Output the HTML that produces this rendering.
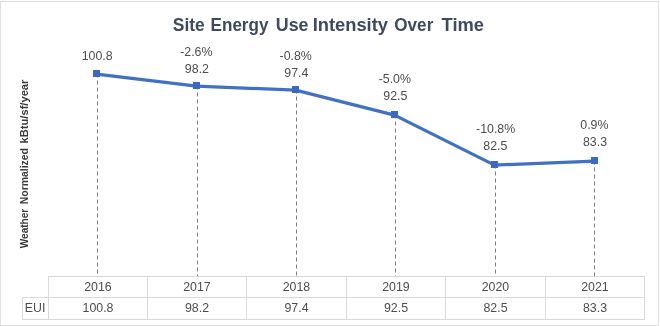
<!DOCTYPE html>
<html><head><meta charset="utf-8"><style>
html,body{margin:0;padding:0;background:#fff;}
svg{display:block;will-change:transform;}
text{font-family:"Liberation Sans",sans-serif;}
</style></head><body>
<svg width="660" height="326" viewBox="0 0 660 326">
<rect x="0" y="0" width="660" height="326" fill="#fff"/>
<rect x="0.5" y="1.5" width="658" height="324" fill="none" stroke="#e0e0e0" stroke-width="1"/>
<text x="172.80" y="31" font-size="18.8" font-weight="bold" fill="#3f4a5e" textLength="32.00" lengthAdjust="spacingAndGlyphs">Site</text>
<text x="210.60" y="31" font-size="18.8" font-weight="bold" fill="#3f4a5e" textLength="57.80" lengthAdjust="spacingAndGlyphs">Energy</text>
<text x="275.80" y="31" font-size="18.8" font-weight="bold" fill="#3f4a5e" textLength="32.70" lengthAdjust="spacingAndGlyphs">Use</text>
<text x="312.70" y="31" font-size="18.8" font-weight="bold" fill="#3f4a5e" textLength="75.30" lengthAdjust="spacingAndGlyphs">Intensity</text>
<text x="394.30" y="31" font-size="18.8" font-weight="bold" fill="#3f4a5e" textLength="39.00" lengthAdjust="spacingAndGlyphs">Over</text>
<text x="441.50" y="31" font-size="18.8" font-weight="bold" fill="#3f4a5e" textLength="42.50" lengthAdjust="spacingAndGlyphs">Time</text>
<text transform="translate(27.7,248.2) rotate(-90)" x="0" y="0" font-size="10.6" font-weight="bold" fill="#3a3a3a" textLength="39.4" lengthAdjust="spacingAndGlyphs">Weather</text>
<text transform="translate(27.7,204.2) rotate(-90)" x="0" y="0" font-size="10.6" font-weight="bold" fill="#3a3a3a" textLength="56.2" lengthAdjust="spacingAndGlyphs">Normalized</text>
<text transform="translate(27.7,143.4) rotate(-90)" x="0" y="0" font-size="10.6" font-weight="bold" fill="#3a3a3a" textLength="63.8" lengthAdjust="spacingAndGlyphs">kBtu/sf/year</text>
<line x1="97.5" y1="73.5" x2="97.5" y2="276" stroke="#7f7f7f" stroke-width="1" stroke-dasharray="4 3"/>
<line x1="197.5" y1="85.5" x2="197.5" y2="276" stroke="#7f7f7f" stroke-width="1" stroke-dasharray="4 3"/>
<line x1="296.5" y1="89.5" x2="296.5" y2="276" stroke="#7f7f7f" stroke-width="1" stroke-dasharray="4 3"/>
<line x1="395.5" y1="114.5" x2="395.5" y2="276" stroke="#7f7f7f" stroke-width="1" stroke-dasharray="4 3"/>
<line x1="495.5" y1="164.5" x2="495.5" y2="276" stroke="#7f7f7f" stroke-width="1" stroke-dasharray="4 3"/>
<line x1="594.5" y1="160.5" x2="594.5" y2="276" stroke="#7f7f7f" stroke-width="1" stroke-dasharray="4 3"/>
<g stroke="#d9d9d9" stroke-width="1"><line x1="48" y1="276.5" x2="644" y2="276.5"/><line x1="22" y1="297.5" x2="644" y2="297.5"/><line x1="22" y1="319.5" x2="644" y2="319.5"/><line x1="48.5" y1="276" x2="48.5" y2="320"/><line x1="147.5" y1="276" x2="147.5" y2="320"/><line x1="246.5" y1="276" x2="246.5" y2="320"/><line x1="346.5" y1="276" x2="346.5" y2="320"/><line x1="445.5" y1="276" x2="445.5" y2="320"/><line x1="545.5" y1="276" x2="545.5" y2="320"/><line x1="644.5" y1="276" x2="644.5" y2="320"/><line x1="22.5" y1="297" x2="22.5" y2="320"/></g>
<path d="M96.5,74.1 L196.5,86.1 L295.5,90.1 L394.5,115.1 L494.5,165.1 L594.5,161.1" fill="none" stroke="#4270c2" stroke-width="3.25" stroke-linejoin="round"/>
<rect x="93.0" y="70.0" width="7" height="7" fill="#3d68bf"/>
<rect x="193.0" y="82.0" width="7" height="7" fill="#3d68bf"/>
<rect x="292.0" y="86.0" width="7" height="7" fill="#3d68bf"/>
<rect x="391.0" y="111.0" width="7" height="7" fill="#3d68bf"/>
<rect x="491.0" y="161.0" width="7" height="7" fill="#3d68bf"/>
<rect x="591.0" y="157.0" width="7" height="7" fill="#3d68bf"/>
<text transform="translate(97.2,59.7) scale(0.96,1)" text-anchor="middle" font-size="12.9" fill="#4d4d4d">100.8</text>
<text transform="translate(196.9,72.8) scale(0.96,1)" text-anchor="middle" font-size="12.9" fill="#4d4d4d">98.2</text>
<text transform="translate(196.3,55.7) scale(0.96,1)" text-anchor="middle" font-size="12.9" fill="#4d4d4d">-2.6%</text>
<text transform="translate(296.3,76.8) scale(0.96,1)" text-anchor="middle" font-size="12.9" fill="#4d4d4d">97.4</text>
<text transform="translate(295.7,59.9) scale(0.96,1)" text-anchor="middle" font-size="12.9" fill="#4d4d4d">-0.8%</text>
<text transform="translate(395.3,99.7) scale(0.96,1)" text-anchor="middle" font-size="12.9" fill="#4d4d4d">92.5</text>
<text transform="translate(394.8,83.1) scale(0.96,1)" text-anchor="middle" font-size="12.9" fill="#4d4d4d">-5.0%</text>
<text transform="translate(495.3,149.8) scale(0.96,1)" text-anchor="middle" font-size="12.9" fill="#4d4d4d">82.5</text>
<text transform="translate(495.6,133.4) scale(0.96,1)" text-anchor="middle" font-size="12.9" fill="#4d4d4d">-10.8%</text>
<text transform="translate(595.0,145.7) scale(0.96,1)" text-anchor="middle" font-size="12.9" fill="#4d4d4d">83.3</text>
<text transform="translate(594.4,128.9) scale(0.96,1)" text-anchor="middle" font-size="12.9" fill="#4d4d4d">0.9%</text>
<text transform="translate(98.0,291) scale(0.96,1)" text-anchor="middle" font-size="12.9" fill="#4d4d4d">2016</text>
<text transform="translate(98.0,312) scale(0.96,1)" text-anchor="middle" font-size="12.9" fill="#4d4d4d">100.8</text>
<text transform="translate(197.0,291) scale(0.96,1)" text-anchor="middle" font-size="12.9" fill="#4d4d4d">2017</text>
<text transform="translate(197.0,312) scale(0.96,1)" text-anchor="middle" font-size="12.9" fill="#4d4d4d">98.2</text>
<text transform="translate(296.5,291) scale(0.96,1)" text-anchor="middle" font-size="12.9" fill="#4d4d4d">2018</text>
<text transform="translate(296.5,312) scale(0.96,1)" text-anchor="middle" font-size="12.9" fill="#4d4d4d">97.4</text>
<text transform="translate(396.0,291) scale(0.96,1)" text-anchor="middle" font-size="12.9" fill="#4d4d4d">2019</text>
<text transform="translate(396.0,312) scale(0.96,1)" text-anchor="middle" font-size="12.9" fill="#4d4d4d">92.5</text>
<text transform="translate(495.5,291) scale(0.96,1)" text-anchor="middle" font-size="12.9" fill="#4d4d4d">2020</text>
<text transform="translate(495.5,312) scale(0.96,1)" text-anchor="middle" font-size="12.9" fill="#4d4d4d">82.5</text>
<text transform="translate(595.0,291) scale(0.96,1)" text-anchor="middle" font-size="12.9" fill="#4d4d4d">2021</text>
<text transform="translate(595.0,312) scale(0.96,1)" text-anchor="middle" font-size="12.9" fill="#4d4d4d">83.3</text>
<text transform="translate(35,312) scale(0.96,1)" text-anchor="middle" font-size="12.9" fill="#4d4d4d">EUI</text>
</svg></body></html>
